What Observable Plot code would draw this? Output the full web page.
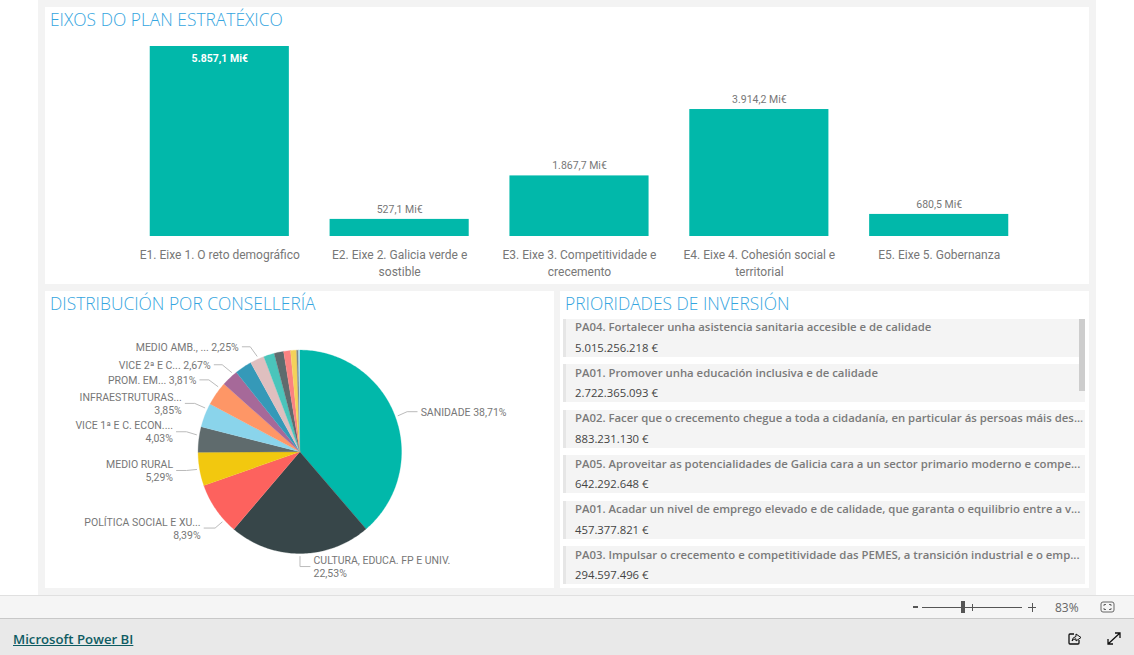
<!DOCTYPE html>
<html lang="gl"><head><meta charset="utf-8">
<script src="https://cdn.jsdelivr.net/npm/d3@7"></script>
<script src="https://cdn.jsdelivr.net/npm/@observablehq/plot@0.6"></script>
<style>
html,body{margin:0;padding:0;background:#fff;overflow:hidden}
#page{position:relative;width:1134px;height:655px;overflow:hidden;background:#fff;font-family:"Open Sans",sans-serif}
.abs{position:absolute}
.canvas{left:38px;top:0;width:1058px;height:595px;background:#f3f3f3}
.panel{background:#fff}
.ttl{font-family:"Open Sans",sans-serif;font-weight:300;font-size:17.400px;color:#35a5e0;white-space:nowrap;line-height:24px}
.item{left:563px;width:519px;height:38px;background:#f4f4f4;border-left:3px solid #e6e6e6}
.item .a{position:absolute;left:9px;top:-0.500px;line-height:18px;font-size:11.350px;font-weight:600;color:#7a7a7a;white-space:nowrap}
.item .b{position:absolute;left:9px;top:20px;line-height:18px;font-size:11.300px;color:#444;white-space:nowrap}
svg{overflow:visible}
</style></head><body><div id="page">
<div class="abs canvas"></div>
<div class="abs panel" style="left:45px;top:7px;width:1044px;height:277px"></div>
<div class="abs panel" style="left:45px;top:291px;width:509px;height:297px"></div>
<div class="abs panel" style="left:560px;top:291px;width:529px;height:297px"></div>
<div class="abs" id="bars" style="left:45px;top:7px"></div>
<div class="abs" id="pie" style="left:45px;top:291px"></div>
<div class="abs ttl" style="left:50px;top:7px">EIXOS DO PLAN ESTRATÉXICO</div>
<div class="abs ttl" style="left:50px;top:291px">DISTRIBUCIÓN POR CONSELLERÍA</div>
<div class="abs ttl" style="left:565px;top:291px">PRIORIDADES DE INVERSIÓN</div>
<div id="list"></div>
<div class="abs" style="left:1079px;top:319px;width:6px;height:72px;background:#cdcdcd"></div>
<div class="abs" style="left:0;top:595px;width:1134px;height:23px;background:#f5f5f5;border-top:1px solid #e0e0e0;box-sizing:border-box"></div>
<div class="abs" style="left:0;top:618px;width:1134px;height:37px;background:#e9e9e9;border-top:1px solid #c8c8c8;box-sizing:border-box"></div>
<div class="abs" style="left:913px;top:606px;width:5px;height:2px;background:#555"></div>
<div class="abs" style="left:922px;top:607px;width:100px;height:1px;background:#555"></div>
<div class="abs" style="left:972px;top:604px;width:1px;height:7px;background:#555"></div>
<div class="abs" style="left:961px;top:601px;width:4px;height:12px;background:#555"></div>
<div class="abs" style="left:1028px;top:607px;width:8px;height:1px;background:#555"></div>
<div class="abs" style="left:1032px;top:603px;width:1px;height:9px;background:#555"></div>
<div class="abs" style="left:1055px;top:599px;font-size:12px;line-height:17px;color:#666">83%</div>
<svg class="abs" style="left:1100px;top:601px" width="16" height="12"><rect x="1" y="1" width="13" height="10" rx="2" fill="none" stroke="#666"/><path d="M4 5V3.500H6M9 3.500H11V5M11 7V8.500H9M6 8.500H4V7" fill="none" stroke="#666"/></svg>
<a class="abs" style="left:13px;top:630px;font-family:'Open Sans',sans-serif;font-size:13.200px;font-weight:600;line-height:18px;color:#0f5c63;text-decoration:underline;white-space:nowrap">Microsoft Power BI</a>
<svg class="abs" style="left:1067px;top:631px" width="16" height="15"><path d="M7 3H3Q2 3 2 4V12Q2 13 3 13H11Q12 13 12 12V9" fill="none" stroke="#111" stroke-width="1.300"/><path d="M5 10Q5.500 6 9 5.500V3L14 6.500L9 10V7.800Q6.500 8 5 10Z" fill="none" stroke="#111"/></svg>
<svg class="abs" style="left:1106px;top:631px" width="16" height="15"><path d="M2 13L14 2M9 2H14V7M2 8V13H7" fill="none" stroke="#111" stroke-width="1.300"/></svg>
</div>
<script>
// --- Eixos do plan estratéxico
const axisCategories = ["E1. Eixe 1. O reto demográfico","E2. Eixe 2. Galicia verde e\nsostible","E3. Eixe 3. Competitividade e\ncrecemento","E4. Eixe 4. Cohesión social e\nterritorial","E5. Eixe 5. Gobernanza"];
const axisValues = [5857.1,527.1,1867.7,3914.2,680.5];

// --- Distribución por consellería (share of the circle, clockwise from the top)
const sliceNames = ["SANIDADE","CULTURA","POLITICA","RURAL","VICE1","INFRA","PROM","VICE2","BLUE","AMB","TEAL2","DARK2","RED2","YELLOW2","GRAY2","OTHER"];
const sliceShares = [38.71,22.53,8.39,5.29,4.03,3.85,3.81,2.67,2.72,2.25,1.70,1.50,1.10,0.95,0.30,0.20];
const sliceColors = ["#01B8AA","#374649","#FD625E","#F2C80F","#5F6B6D","#8AD4EB","#FE9666","#A66999","#3599B8","#DFBFBF","#4AC5BB","#5F6B6D","#FB8281","#F4D25A","#7F898A","#A4DDEE"];

// --- Pie labels and the point of the circle (in %) where each leader starts
const pieLabelText = ["SANIDADE 38,71%","CULTURA, EDUCA. FP E UNIV.\n22,53%","POLÍTICA SOCIAL E XU...\n8,39%","MEDIO RURAL\n5,29%","VICE 1ª E C. ECON....\n4,03%","INFRAESTRUTURAS...\n3,85%","PROM. EM... 3,81%","VICE 2ª E C... 2,67%","MEDIO AMB., ... 2,25%"];
const pieLabelAt = [19.4,49.97,63.3,72.3,77.6,81.9,85.7,88.7,93.3];

// leader geometry in pixels: elbow offset and horizontal leg
const leaderDx = [9,0,-7,-10,-10,-10,-9,-9.3,-6.7];
const leaderDy = [-4,10,6,1,-3,-4.400,-6.700,-7.600,-9.400];
const leaderLeg = [10,10,-11,-10,-10,-9.500,-9,-8,-8];

// --- Prioridades de inversión
const priorityNames = ["PA04. Fortalecer unha asistencia sanitaria accesible e de calidade","PA01. Promover unha educación inclusiva e de calidade","PA02. Facer que o crecemento chegue a toda a cidadanía, en particular ás persoas máis des...","PA05. Aproveitar as potencialidades de Galicia cara a un sector primario moderno e compe...","PA01. Acadar un nivel de emprego elevado e de calidade, que garanta o equilibrio entre a v...","PA03. Impulsar o crecemento e competitividade das PEMES, a transición industrial e o emp..."];
const priorityValues = [5015256218,2722365093,883231130,642292648,457377821,294597496];

const es = d3.formatLocale({decimal:",",thousands:".",grouping:[3],currency:["","€"]});
const fmt1 = es.format(",.1f"), fmt0 = es.format(",.0f");
const labelFont = "Roboto, sans-serif";

// bars
const barRows = axisCategories.map((c,i)=>({c,v:axisValues[i]}));
const maxV = d3.max(axisValues);
document.getElementById("bars").append(Plot.plot({
  width:1044,height:277,marginTop:39,marginBottom:48,marginLeft:64,marginRight:40,
  style:{background:"transparent",fontFamily:labelFont},
  x:{domain:axisCategories,padding:0.2265,round:false,label:null},
  y:{domain:[0,maxV],axis:null},
  marks:[
    Plot.barY(barRows,{x:"c",y:"v",fill:"#01B8AA"}),
    Plot.axisX({tickSize:0,tickPadding:10,label:null,fontSize:12,lineHeight:1.42,fill:"#777",textAnchor:"middle",lineAnchor:"top"}),
    Plot.text(barRows.filter(d=>d.v===maxV),{x:"c",y:"v",text:d=>fmt1(d.v)+" Mi€",dy:12,fill:"#fff",fontWeight:700,fontSize:10.500}),
    Plot.text(barRows.filter(d=>d.v!==maxV),{x:"c",y:"v",text:d=>fmt1(d.v)+" Mi€",dy:-10,fill:"#777",fontSize:10.500})
  ]
}));

// pie, built from the shares through Plot's own x and y scales
const R = 101.700, cx = 254.300, cy = 160.300, pw = 509, ph = 297;
const total = d3.sum(sliceShares);
const polar = (pct,r)=>{const t=pct/total*2*Math.PI;return {x:r*Math.sin(t),y:-r*Math.cos(t)};};
const slicePts = [];
let acc = 0;
sliceShares.forEach((s,i)=>{
  const name = sliceNames[i];
  slicePts.push({name,x:0,y:0});
  const steps = Math.max(2,Math.ceil(s*3.6));
  for(let k=0;k<=steps;k++) slicePts.push({name,...polar(acc+s*k/steps,1)});
  acc += s;
});
const leaderPts = [], labelRows = [];
pieLabelText.forEach((text,i)=>{
  const a = polar(pieLabelAt[i],1.03);
  const e = {x:a.x+leaderDx[i]/R,y:a.y+leaderDy[i]/R};
  const f = {x:e.x+leaderLeg[i]/R,y:e.y};
  [a,e,f].forEach(p=>leaderPts.push({i,...p}));
  labelRows.push({text,x:f.x+Math.sign(leaderLeg[i])*3.500/R,y:f.y,right:leaderLeg[i]>0});
});
const labelStyle = {x:"x",y:"y",text:"text",fill:"#777",fontSize:10.500,lineHeight:1.24};
document.getElementById("pie").append(Plot.plot({
  width:pw,height:ph,margin:0,
  style:{background:"transparent",fontFamily:labelFont},
  x:{domain:[-cx/R,(pw-cx)/R],range:[0,pw],axis:null},
  y:{domain:[-cy/R,(ph-cy)/R],range:[0,ph],axis:null},
  color:{type:"ordinal",domain:sliceNames,range:sliceColors},
  marks:[
    Plot.line(slicePts,{x:"x",y:"y",z:"name",fill:"name",stroke:"name",strokeWidth:0.3,curve:"linear"}),
    Plot.line(leaderPts,{x:"x",y:"y",z:"i",stroke:"#bbb",strokeWidth:1}),
    Plot.text(labelRows.filter(d=>d.right),{...labelStyle,textAnchor:"start"}),
    Plot.text(labelRows.filter(d=>!d.right),{...labelStyle,textAnchor:"end"})
  ]
}));

// list
const list = document.getElementById("list");
priorityNames.forEach((n,i)=>{
  const d = document.createElement("div");
  d.className = "abs item";
  d.style.top = (318.500+45.500*i)+"px";
  d.innerHTML = '<div class="a"></div><div class="b"></div>';
  d.querySelector(".a").textContent = n;
  d.querySelector(".b").textContent = fmt0(priorityValues[i])+" €";
  list.append(d);
});
</script></body></html>
